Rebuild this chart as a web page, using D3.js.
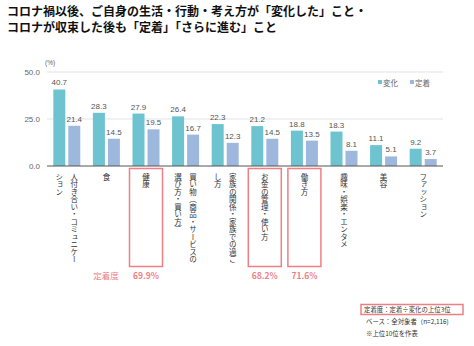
<!DOCTYPE html>
<html>
<head>
<meta charset="utf-8">
<script src="https://cdn.jsdelivr.net/npm/d3@7"></script>
<style>
  body { margin: 0; background: #fff; }
  svg { font-family: "Noto Sans CJK JP", "Noto Sans", sans-serif; }
</style>
</head>
<body>
<svg id="chart"></svg>
<script>
// data
const categories = ["人付き合い・コミュニケーション", "食", "健康", "買い物（商品・サービスの選び方・買い方）",
  "家族の関係・家族での過ごし方", "お金の管理・使い方", "働き方", "趣味・娯楽・エンタメ", "美容", "ファッション"];
// label columns (vertical text, right column first)
const labelLines = [
  ["人付き合い・コミュニケー", "ション"],
  ["食"],
  ["健康"],
  ["買い物（商品・サービスの", "選び方・買い方）"],
  ["家族の関係・家族での過ご", "し方"],
  ["お金の管理・使い方"],
  ["働き方"],
  ["趣味・娯楽・エンタメ"],
  ["美容"],
  ["ファッション"]
];
const seriesNames = ["変化", "定着"];
const henka = [40.7, 28.3, 27.9, 26.4, 22.3, 21.2, 18.8, 18.3, 11.1, 9.2];
const teichaku = [21.4, 14.5, 19.5, 16.7, 12.3, 14.5, 13.5, 8.1, 5.1, 3.7];
const yTicks = [0, 25, 50];
const highlighted = ["健康", "お金の管理・使い方", "働き方"];
const teichakuRate = ["69.9%", "68.2%", "71.6%"];

const colors = ["#6dc3d0", "#9db8dc"];
const pink = "#ee7f84";

const W = 474, H = 346;
const margin = {top: 72, left: 47, right: 31, bottom: 180};
const svg = d3.select('#chart').attr('width', W).attr('height', H);

// title
const title = svg.append('g').attr('font-weight', 'bold').attr('font-size', 12).attr('fill', '#111');
title.append('text').attr('x', 7).attr('y', 16).text('コロナ禍以後、ご自身の生活・行動・考え方が「変化した」こと・');
title.append('text').attr('x', 7).attr('y', 32).text('コロナが収束した後も「定着」「さらに進む」こと');

const x = d3.scaleBand().domain(categories).range([margin.left, W - margin.right]);
const y = d3.scaleLinear().domain([0, 50]).range([166, 72]);

// gridlines
svg.append('g').selectAll('line').data(yTicks.filter(d => d > 0)).join('line')
  .attr('x1', margin.left).attr('x2', W - margin.right)
  .attr('y1', d => y(d)).attr('y2', d => y(d))
  .attr('stroke', '#e3e3e3').attr('stroke-width', 1);

// y axis labels
const yAxis = svg.append('g')
  .attr('transform', 'translate(' + margin.left + ',0)')
  .call(d3.axisLeft(y).tickValues(yTicks).tickFormat(d3.format('.1f')).tickSize(0).tickPadding(7));
yAxis.select('.domain').remove();
yAxis.selectAll('text').attr('font-size', 8).attr('fill', '#666').attr('font-family', '"Liberation Sans", Arial, sans-serif');
svg.append('text').attr('x', 45).attr('y', 65).attr('font-size', 6.5).attr('fill', '#666')
  .attr('font-family', '"Liberation Sans", Arial, sans-serif').text('(%)');

// bars
const barW = 12, gap = 3;
const series = [henka, teichaku];
series.forEach(function(vals, s) {
  const offset = s === 0 ? -(barW + gap / 2) : gap / 2;
  svg.append('g').selectAll('rect').data(vals).join('rect')
    .attr('x', (d, i) => x(categories[i]) + x.bandwidth() / 2 + offset)
    .attr('y', d => y(d))
    .attr('width', barW)
    .attr('height', d => y(0) - y(d))
    .attr('fill', colors[s]);
  svg.append('g').selectAll('text').data(vals).join('text')
    .attr('x', (d, i) => x(categories[i]) + x.bandwidth() / 2 + offset + barW / 2)
    .attr('y', d => y(d) - 4)
    .attr('text-anchor', 'middle')
    .attr('font-size', 8).attr('fill', '#555')
    .attr('font-family', '"Liberation Sans", Arial, sans-serif')
    .text(d => d.toFixed(1));
});

// baseline
svg.append('line').attr('x1', margin.left).attr('x2', W - margin.right)
  .attr('y1', y(0)).attr('y2', y(0)).attr('stroke', '#555').attr('stroke-width', 1);

// legend
const legend = svg.append('g').attr('font-size', 7.5).attr('fill', '#666');
seriesNames.forEach(function(name, i) {
  const lx = 378 + i * 32;
  legend.append('rect').attr('x', lx).attr('y', 80).attr('width', 4).attr('height', 4).attr('fill', colors[i]);
  legend.append('text').attr('x', lx + 5).attr('y', 85.5).text(name);
});

// category labels (vertical)
const labels = svg.append('g').attr('font-size', 7.5).attr('fill', '#333');
labelLines.forEach(function(lines, i) {
  const cx = x(categories[i]) + x.bandwidth() / 2;
  const n = lines.length;
  lines.forEach(function(line, j) {
    labels.append('text')
      .attr('x', cx + ((n - 1) / 2 - j) * 15)
      .attr('y', 173)
      .style('writing-mode', 'vertical-rl')
      .text(line);
  });
});

// highlight boxes
highlighted.forEach(function(cat, i) {
  const cx = x(cat) + x.bandwidth() / 2;
  svg.append('rect')
    .attr('x', cx - 16.5).attr('y', 168.5)
    .attr('width', 33).attr('height', 98)
    .attr('fill', 'none').attr('stroke', pink).attr('stroke-width', 1.5);
  svg.append('text')
    .attr('x', cx).attr('y', 279)
    .attr('text-anchor', 'middle')
    .attr('font-size', 8.5).attr('font-weight', 'bold').attr('fill', pink)
    .text(teichakuRate[i]);
});
svg.append('text').attr('x', 106).attr('y', 279).attr('text-anchor', 'middle')
  .attr('font-size', 8.5).attr('fill', pink).text('定着度');

// notes
svg.append('rect').attr('x', 361).attr('y', 304.5).attr('width', 102).attr('height', 10)
  .attr('fill', 'none').attr('stroke', pink).attr('stroke-width', 1.5);
const notes = svg.append('g').attr('font-size', 6.4).attr('fill', '#333');
notes.append('text').attr('x', 364).attr('y', 312).text('定着度：定着÷変化の上位3位');
notes.append('text').attr('x', 366).attr('y', 324).text('ベース：全対象者（n=2,116)');
notes.append('text').attr('x', 366).attr('y', 336).text('※上位10位を作表');
</script>
</body>
</html>
